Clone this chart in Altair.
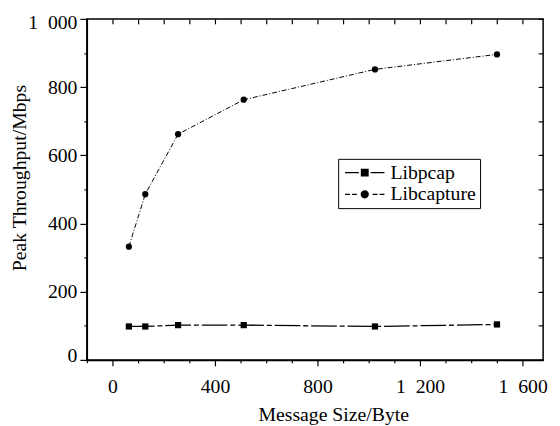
import altair as alt
import pandas as pd

sizes = [64, 128, 256, 512, 1024, 1500]
libpcap = [98, 98, 102, 102, 98, 104]
libcapture = [332, 486, 662, 763, 852, 896]
series_names = ["Libpcap", "Libcapture"]
x_ticks = list(range(-100, 1601, 100))
y_ticks = list(range(0, 1001, 100))
x_domain = [-100, 1680]
y_domain = [0, 1000]

rows = []
for s, a, b in zip(sizes, libpcap, libcapture):
    rows.append({"size": s, "value": a, "series": "Libpcap"})
    rows.append({"size": s, "value": b, "series": "Libcapture"})
df = pd.DataFrame(rows)

FONT = "Liberation Serif, Times New Roman, Times, serif"
FS = 20
TFS = 20

def fmt_expr(step):
    return (f"datum.value % {step} !== 0 ? '' : (datum.value >= 1000 ? "
            "floor(datum.value/1000) + '\u2002' + format(datum.value % 1000, '03d') : "
            "format(datum.value, 'd'))")

x_scale = alt.Scale(domain=x_domain, nice=False, zero=False)
y_scale = alt.Scale(domain=y_domain, nice=False, zero=False)

lines = alt.Chart(df).mark_line(color="black").encode(
    x=alt.X("size:Q", scale=x_scale, axis=alt.Axis(
        orient="bottom", values=x_ticks, title="Message Size/Byte",
        labelExpr=fmt_expr(400),
        tickSize={"condition": {"test": "datum.value % 400 === 0", "value": 6}, "value": 3},
        labelPadding=11, titleX=250, titleY=61, titleBaseline="alphabetic",
        grid=False)),
    y=alt.Y("value:Q", scale=y_scale, axis=alt.Axis(
        orient="left", values=y_ticks, title="Peak Throughput/Mbps",
        labelExpr=fmt_expr(200), labelFlush=True, labelFlushOffset=6,
        tickSize={"condition": {"test": "datum.value % 200 === 0", "value": 7}, "value": 3},
        labelPadding=3, titleX=-62, titleY=161, titleBaseline="alphabetic",
        grid=False)),
    strokeDash=alt.StrokeDash("series:N", scale=alt.Scale(domain=series_names, range=[[26, 3, 5, 3], [5, 2, 1, 2]]), legend=None),
    strokeWidth=alt.StrokeWidth("series:N", scale=alt.Scale(domain=series_names, range=[1.3, 1.0]), legend=None),
    detail="series:N",
)

points = alt.Chart(df).mark_point(filled=True, color="black", size=40, opacity=1).encode(
    x=alt.X("size:Q", scale=x_scale, axis=alt.Axis(
        orient="top", values=x_ticks, labels=False, domain=False, tickSize=5,
        offset=-5, title=None, grid=False)),
    y=alt.Y("value:Q", scale=y_scale, axis=alt.Axis(
        orient="right", values=y_ticks, labels=False, domain=False, tickSize=5,
        offset=-5, title=None, grid=False)),
    shape=alt.Shape("series:N", scale=alt.Scale(domain=series_names, range=["square", "circle"]), legend=None),
)

# legend symbols (unit box = 40 px): line pieces drawn as thin filled bars plus the marker
sym_pcap = ("M-1,-0.035H-0.3V0.035H-1Z"
            "M0.3,-0.035H1V0.035H0.3Z"
            "M-0.2,-0.2H0.2V0.2H-0.2Z")
sym_capture = ("M-1,-0.03H-0.75V0.03H-1Z"
               "M-0.65,-0.03H-0.4V0.03H-0.65Z"
               "M0.4,-0.03H0.65V0.03H0.4Z"
               "M0.75,-0.03H1V0.03H0.75Z"
               "M0.21,0A0.21,0.21,0,1,1,-0.21,0A0.21,0.21,0,1,1,0.21,0Z")

legend_layer = alt.Chart(alt.Data(values=[])).mark_point(
    filled=True, color="black", opacity=1
).encode(
    shape=alt.Shape("series:N", scale=alt.Scale(domain=series_names, range=[sym_pcap, sym_capture]),
                    legend=alt.Legend(
                        title=None, orient="none", legendX=255, legendY=142, direction="vertical",
                        symbolSize=1600, symbolStrokeWidth=0, symbolFillColor="black",
                        labelFont=FONT, labelFontSize=FS, clipHeight=20,
                        labelColor="black", padding=4, strokeColor="black", fillColor="white",
                        rowPadding=2, symbolOffset=3, labelOffset=6, labelLimit=300,
                        cornerRadius=0)),
)

chart = alt.layer(lines, points, legend_layer).resolve_scale(
    x="independent", y="independent", shape="independent"
).properties(
    width=463, height=346,
    autosize=alt.AutoSizeParams(type="none"),
    padding={"left": 80, "top": 8, "right": 9, "bottom": 64},
).configure_view(
    stroke="black", strokeWidth=1.5
).configure_axis(
    labelFont=FONT, labelFontSize=FS, labelColor="black",
    titleFont=FONT, titleFontSize=TFS, titleColor="black", titleFontWeight="normal",
    domainColor="black", domainWidth=1.5, tickColor="black", tickWidth=1.2,
)

chart.save("out.html", embed_options={"renderer": "svg", "actions": False})
